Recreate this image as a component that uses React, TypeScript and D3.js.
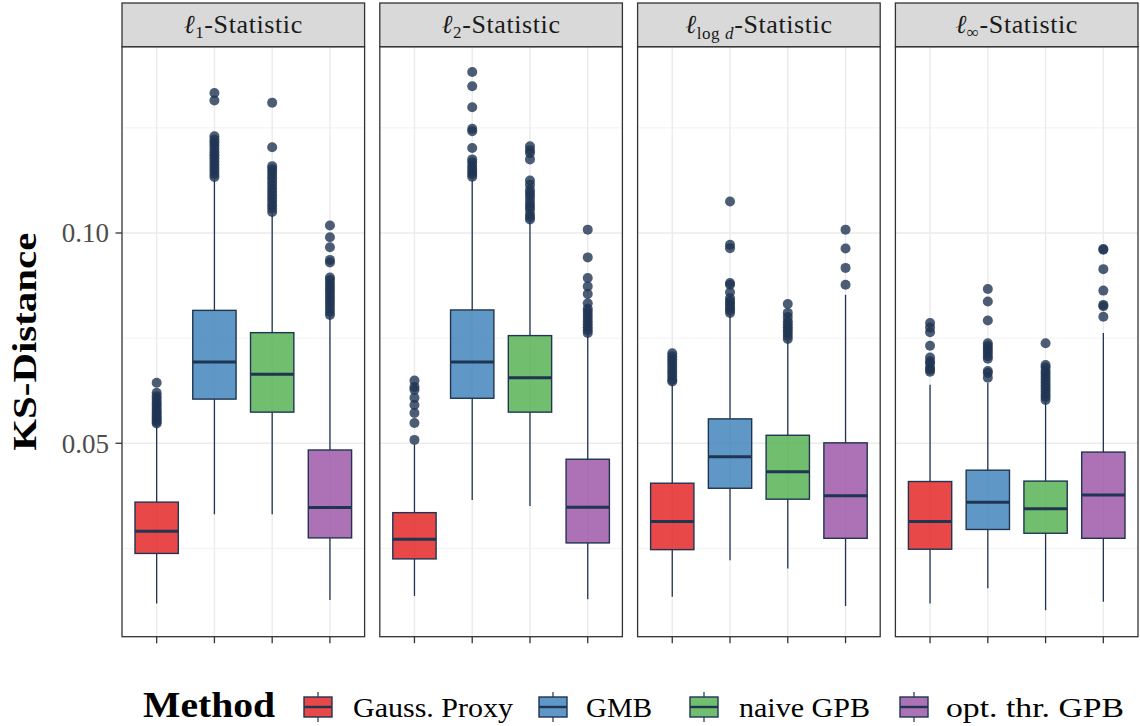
import { useEffect } from 'react';
import * as d3 from 'd3';

// facets and methods
const statistics = ['l1', 'l2', 'llogd', 'linf'];
const methods = ['Gauss. Proxy', 'GMB', 'naive GPB', 'opt. thr. GPB'];
const methodColors = ['#E41A1C', '#377EB8', '#4DAF4A', '#984EA3'];

// [lower whisker, q1, median, q3, upper whisker] per method
const l1Boxes = [
  [0.0119, 0.0238, 0.0291, 0.0360, 0.0543],
  [0.0331, 0.0605, 0.0693, 0.0816, 0.1127],
  [0.0331, 0.0574, 0.0664, 0.0763, 0.1045],
  [0.0127, 0.0275, 0.0347, 0.0484, 0.0800],
];
const l2Boxes = [
  [0.0137, 0.0225, 0.0272, 0.0335, 0.0497],
  [0.0365, 0.0607, 0.0693, 0.0817, 0.1127],
  [0.0351, 0.0574, 0.0656, 0.0756, 0.1028],
  [0.0129, 0.0263, 0.0348, 0.0462, 0.0758],
];
const llogdBoxes = [
  [0.0135, 0.0247, 0.0314, 0.0405, 0.0642],
  [0.0222, 0.0393, 0.0468, 0.0558, 0.0805],
  [0.0202, 0.0367, 0.0432, 0.0519, 0.0743],
  [0.0113, 0.0274, 0.0375, 0.0501, 0.0853],
];
const linfBoxes = [
  [0.0119, 0.0248, 0.0314, 0.0409, 0.0639],
  [0.0155, 0.0295, 0.0360, 0.0436, 0.0643],
  [0.0103, 0.0286, 0.0344, 0.0410, 0.0598],
  [0.0123, 0.0274, 0.0377, 0.0479, 0.0762],
];

// outliers per method
const l1Outliers = [
  [0.0644, 0.0620, 0.0612, 0.0605, 0.0598, 0.0592, 0.0587, 0.0580, 0.0575, 0.0570, 0.0565, 0.0560, 0.0556, 0.0551, 0.0547],
  [0.1333, 0.1315, 0.1230, 0.1222, 0.1215, 0.1208, 0.1200, 0.1192, 0.1185, 0.1178, 0.1170, 0.1163, 0.1155, 0.1148, 0.1140, 0.1133],
  [0.1310, 0.1204, 0.1159, 0.1152, 0.1145, 0.1138, 0.1130, 0.1122, 0.1114, 0.1106, 0.1098, 0.1090, 0.1082, 0.1074, 0.1066, 0.1058, 0.1050],
  [0.1018, 0.0990, 0.0966, 0.0936, 0.0930, 0.0894, 0.0888, 0.0880, 0.0872, 0.0865, 0.0858, 0.0850, 0.0843, 0.0836, 0.0828, 0.0820, 0.0812, 0.0805],
];
const l2Outliers = [
  [0.0649, 0.0634, 0.0627, 0.0608, 0.0591, 0.0572, 0.0548, 0.0508],
  [0.1383, 0.1349, 0.1299, 0.1248, 0.1242, 0.1202, 0.1175, 0.1168, 0.1160, 0.1153, 0.1146, 0.1140, 0.1134],
  [0.1206, 0.1197, 0.1190, 0.1175, 0.1125, 0.1115, 0.1103, 0.1095, 0.1088, 0.1079, 0.1070, 0.1063, 0.1056, 0.1045, 0.1038, 0.1032],
  [0.1008, 0.0942, 0.0893, 0.0873, 0.0855, 0.0833, 0.0820, 0.0813, 0.0805, 0.0798, 0.0790, 0.0783, 0.0776, 0.0769, 0.0762],
];
const llogdOutliers = [
  [0.0714, 0.0707, 0.0700, 0.0693, 0.0686, 0.0679, 0.0672, 0.0665, 0.0658, 0.0651, 0.0647],
  [0.1075, 0.0972, 0.0964, 0.0881, 0.0877, 0.0859, 0.0845, 0.0838, 0.0833, 0.0827, 0.0821, 0.0816, 0.0810],
  [0.0831, 0.0810, 0.0800, 0.0790, 0.0783, 0.0776, 0.0769, 0.0762, 0.0755, 0.0748],
  [0.1008, 0.0963, 0.0917, 0.0877],
];
const linfOutliers = [
  [0.0786, 0.0775, 0.0764, 0.0732, 0.0704, 0.0695, 0.0690, 0.0680, 0.0675, 0.0670],
  [0.0867, 0.0837, 0.0792, 0.0738, 0.0732, 0.0726, 0.0720, 0.0714, 0.0707, 0.0701, 0.0672, 0.0667, 0.0656],
  [0.0738, 0.0686, 0.0680, 0.0672, 0.0665, 0.0658, 0.0651, 0.0644, 0.0637, 0.0630, 0.0623, 0.0616, 0.0610, 0.0603],
  [0.0962, 0.0960, 0.0914, 0.0863, 0.0829, 0.0826, 0.0801],
];

const boxesByStat = [l1Boxes, l2Boxes, llogdBoxes, linfBoxes];
const outliersByStat = [l1Outliers, l2Outliers, llogdOutliers, linfOutliers];

const yMajor = [0.05, 0.10];
const yMinor = [0.025, 0.075, 0.125];

const W = 1140;
const H = 726;
const FONT = '"Liberation Serif", "DejaVu Serif", serif';
const outline = '#1F3552';

const plotLeft = 122;
const plotRight = 1138;
const panelGap = 15.2;
const panelTop = 46.7;
const panelBottom = 636.7;
const stripTop = 3;
const panelW = (plotRight - plotLeft - panelGap * 3) / 4;

function StripLabel({ i, x, y }: { i: number; x: number; y: number }) {
  const common = { x, y, textAnchor: 'middle' as const, fontFamily: FONT, fontSize: 26, fill: '#1a1a1a', letterSpacing: 0.6 };
  if (statistics[i] === 'l1' || statistics[i] === 'l2') {
    return (
      <text {...common}>
        <tspan fontStyle="italic">ℓ</tspan>
        <tspan fontSize={17} dy={5}>{statistics[i] === 'l1' ? '1' : '2'}</tspan>
        <tspan dy={-5}>-Statistic</tspan>
      </text>
    );
  }
  if (statistics[i] === 'llogd') {
    return (
      <text {...common}>
        <tspan fontStyle="italic">ℓ</tspan>
        <tspan fontSize={17} dy={6}>log </tspan>
        <tspan fontSize={17} fontStyle="italic">d</tspan>
        <tspan dy={-6}>-Statistic</tspan>
      </text>
    );
  }
  return (
    <text {...common}>
      <tspan fontStyle="italic">ℓ</tspan>
      <tspan fontSize={17} dy={5}>∞</tspan>
      <tspan dy={-5}>-Statistic</tspan>
    </text>
  );
}

export default function App() {
  useEffect(() => {
    document.body.style.margin = '0';
  }, []);

  const y = d3.scaleLinear().domain([0.0040, 0.1443]).range([panelBottom, panelTop]);

  const legendKeyX = [304, 539, 690, 900];
  const legendLabelX = [353, 586, 739, 946];
  const legendLabelW = [160, 66, 131, 178];
  const legendY = 707;

  return (
    <svg width={W} height={H} style={{ position: 'absolute', left: 0, top: 0, background: '#fff' }}>
      {statistics.map((s, si) => {
        const x0 = plotLeft + si * (panelW + panelGap);
        const x = d3.scaleBand().domain(methods).range([x0, x0 + panelW]).paddingOuter(0.1).paddingInner(0);
        const bw = x.bandwidth();
        const boxW = bw * 0.75;
        return (
          <g key={s}>
            {/* panel background and grid */}
            <rect x={x0} y={panelTop} width={panelW} height={panelBottom - panelTop} fill="#fff" />
            {yMinor.map(v => (
              <line key={'mn' + v} x1={x0} x2={x0 + panelW} y1={y(v)} y2={y(v)} stroke="#ebebeb" strokeWidth={0.7} />
            ))}
            {yMajor.map(v => (
              <line key={'mj' + v} x1={x0} x2={x0 + panelW} y1={y(v)} y2={y(v)} stroke="#ebebeb" strokeWidth={1.4} />
            ))}
            {methods.map(m => (
              <line key={'vg' + m} x1={x(m)! + bw / 2} x2={x(m)! + bw / 2} y1={panelTop} y2={panelBottom} stroke="#ebebeb" strokeWidth={1.4} />
            ))}
            {/* boxes */}
            {methods.map((m, mi) => {
              const [lo, q1, med, q3, hi] = boxesByStat[si][mi];
              const cx = x(m)! + bw / 2;
              return (
                <g key={'bx' + m}>
                  <line x1={cx} x2={cx} y1={y(q3)} y2={y(hi)} stroke={outline} strokeWidth={1.3} />
                  <line x1={cx} x2={cx} y1={y(q1)} y2={y(lo)} stroke={outline} strokeWidth={1.3} />
                  <rect x={cx - boxW / 2} y={y(q3)} width={boxW} height={y(q1) - y(q3)}
                    fill={methodColors[mi]} fillOpacity={0.8} stroke={outline} strokeWidth={1.4} />
                  <line x1={cx - boxW / 2} x2={cx + boxW / 2} y1={y(med)} y2={y(med)} stroke={outline} strokeWidth={3} />
                  {outliersByStat[si][mi].map((v, k) => (
                    <circle key={k} cx={cx} cy={y(v)} r={5} fill={outline} fillOpacity={0.8} />
                  ))}
                </g>
              );
            })}
            {/* panel border */}
            <rect x={x0} y={panelTop} width={panelW} height={panelBottom - panelTop} fill="none" stroke="#333" strokeWidth={1.3} />
            {/* strip */}
            <rect x={x0} y={stripTop} width={panelW} height={panelTop - stripTop} fill="#d9d9d9" stroke="#333" strokeWidth={1.3} />
            <StripLabel i={si} x={x0 + panelW / 2} y={33} />
            {/* x ticks */}
            {methods.map(m => (
              <line key={'xt' + m} x1={x(m)! + bw / 2} x2={x(m)! + bw / 2} y1={panelBottom} y2={panelBottom + 6.5} stroke="#333" strokeWidth={1.3} />
            ))}
          </g>
        );
      })}

      {/* y axis */}
      {yMajor.map(v => (
        <g key={'yt' + v}>
          <line x1={plotLeft - 6.5} x2={plotLeft} y1={y(v)} y2={y(v)} stroke="#333" strokeWidth={1.3} />
          <text x={plotLeft - 13} y={y(v)} dy="0.35em" textAnchor="end" fontFamily={FONT} fontSize={27} fill="#4d4d4d">
            {d3.format('.2f')(v)}
          </text>
        </g>
      ))}
      <text transform={`translate(36, ${(panelTop + panelBottom) / 2}) rotate(-90)`} textAnchor="middle"
        fontFamily={FONT} fontSize={33} fontWeight="bold" fill="#000" textLength={218} lengthAdjust="spacingAndGlyphs">
        KS-Distance
      </text>

      {/* legend */}
      <text x={143} y={717} fontFamily={FONT} fontSize={35} fontWeight="bold" fill="#000" textLength={132} lengthAdjust="spacingAndGlyphs">Method</text>
      {methods.map((m, mi) => {
        const kx = legendKeyX[mi];
        const kw = 28;
        return (
          <g key={'lg' + m}>
            <line x1={kx + kw / 2} x2={kx + kw / 2} y1={legendY - 15} y2={legendY + 15} stroke={outline} strokeWidth={1.2} />
            <rect x={kx} y={legendY - 10} width={kw} height={20} fill="#fff" />
            <rect x={kx} y={legendY - 10} width={kw} height={20} fill={methodColors[mi]} fillOpacity={0.8} stroke={outline} strokeWidth={1.4} />
            <line x1={kx} x2={kx + kw} y1={legendY} y2={legendY} stroke={outline} strokeWidth={2.4} />
            <text x={legendLabelX[mi]} y={legendY} dy="0.35em" fontFamily={FONT} fontSize={28} fill="#000"
              textLength={legendLabelW[mi]} lengthAdjust="spacingAndGlyphs">{m}</text>
          </g>
        );
      })}
    </svg>
  );
}
